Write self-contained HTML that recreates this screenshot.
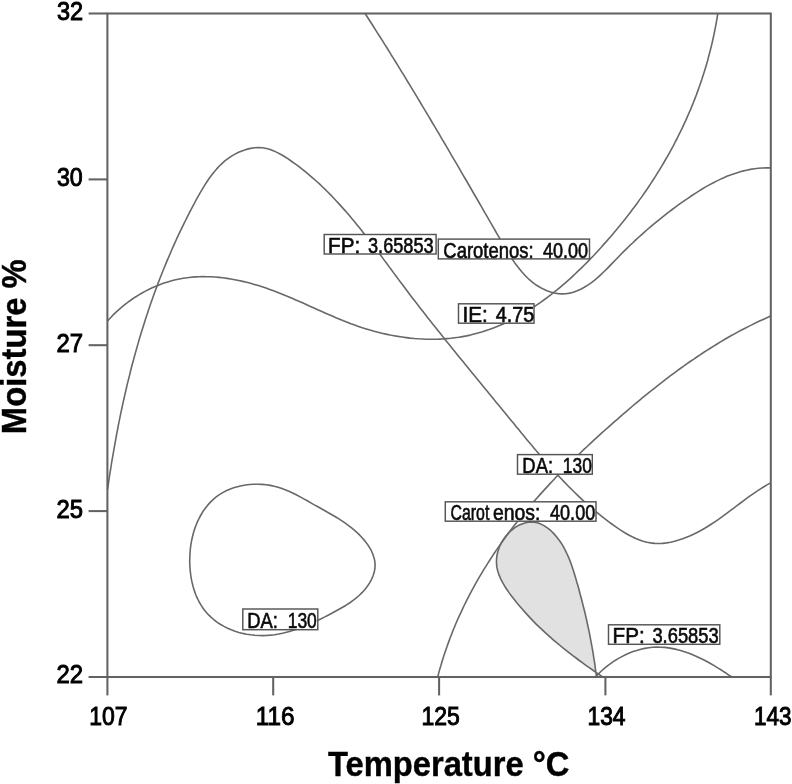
<!DOCTYPE html>
<html><head><meta charset="utf-8"><title>Contour plot</title>
<style>html,body{margin:0;padding:0;background:#fff}svg{display:block}</style></head>
<body>
<svg width="792" height="784" viewBox="0 0 792 784">
<rect width="792" height="784" fill="#fff"/>
<path d="M595.8 672.0 L592.4 669.7 L589.1 667.4 L585.8 665.0 L582.5 662.6 L579.2 660.3 L575.9 657.8 L572.7 655.4 L569.4 652.9 L566.2 650.4 L563.1 647.9 L559.9 645.4 L556.8 642.8 L553.7 640.2 L550.6 637.5 L547.6 634.8 L544.6 632.1 L541.6 629.4 L538.7 626.6 L535.8 623.7 L533.0 620.8 L530.1 617.9 L527.3 614.9 L524.6 611.9 L521.9 608.8 L519.2 605.7 L516.6 602.6 L514.0 599.3 L511.5 596.1 L509.0 592.7 L506.7 589.3 L504.5 585.9 L502.4 582.4 L500.6 578.8 L499.1 575.1 L497.9 571.4 L497.0 567.6 L496.5 563.7 L496.5 559.7 L496.9 555.7 L497.8 551.7 L499.1 547.7 L500.8 543.8 L502.9 540.0 L505.3 536.6 L508.0 533.3 L511.0 530.5 L514.3 528.0 L517.8 526.0 L521.5 524.5 L525.3 523.4 L529.2 522.9 L533.1 522.8 L536.9 523.2 L540.6 524.1 L544.2 525.5 L547.5 527.4 L550.6 529.7 L553.5 532.5 L556.2 535.5 L558.6 538.9 L560.9 542.4 L563.0 546.1 L564.9 549.9 L566.6 553.7 L568.3 557.5 L569.8 561.4 L571.2 565.3 L572.6 569.2 L574.0 573.1 L575.3 576.9 L576.5 580.8 L577.7 584.7 L578.9 588.6 L580.0 592.5 L581.0 596.4 L582.1 600.3 L583.1 604.2 L584.0 608.1 L584.9 612.0 L585.8 615.9 L586.7 619.9 L587.5 623.8 L588.3 627.7 L589.1 631.7 L589.8 635.7 L590.5 639.6 L591.3 643.6 L591.9 647.6 L592.6 651.6 L593.3 655.7 L593.9 659.7 L594.6 663.7 L595.2 667.8 L595.8 671.9" fill="#e1e1e1" stroke="none"/>
<g fill="none" stroke="#686868" stroke-width="1.6" stroke-linejoin="round">
<path d="M602.7 677.0 L599.3 674.7 L595.9 672.3 L592.6 670.0 L589.2 667.6 L585.9 665.3 L582.6 662.9 L579.3 660.5 L576.1 658.0 L572.8 655.6 L569.6 653.1 L566.4 650.6 L563.2 648.1 L560.1 645.5 L556.9 642.9 L553.8 640.3 L550.8 637.6 L547.7 634.9 L544.7 632.2 L541.8 629.4 L538.8 626.6 L535.9 623.8 L533.0 620.9 L530.2 617.9 L527.4 614.9 L524.7 611.9 L522.0 608.8 L519.3 605.7 L516.6 602.5 L514.1 599.3 L511.5 596.0 L509.0 592.6 L506.7 589.2 L504.4 585.7 L502.4 582.2 L500.6 578.6 L499.0 574.9 L497.8 571.2 L496.9 567.4 L496.5 563.5 L496.5 559.6 L496.9 555.6 L497.8 551.7 L499.1 547.7 L500.8 543.9 L502.9 540.2 L505.4 536.7 L508.1 533.4 L511.2 530.5 L514.6 527.8 L518.2 525.6 L521.9 523.9 L525.8 522.7 L529.7 522.0 L533.6 522.1 L537.3 522.8 L540.9 524.1 L544.4 525.9 L547.7 528.1 L550.9 530.7 L553.8 533.6 L556.5 536.7 L559.0 539.9 L561.3 543.2 L563.4 546.7 L565.3 550.3 L567.1 554.0 L568.8 557.8 L570.3 561.6 L571.7 565.5 L573.0 569.4 L574.3 573.4 L575.5 577.4 L576.6 581.4 L577.8 585.3 L578.9 589.3 L579.9 593.3 L581.0 597.2 L582.0 601.1 L583.0 605.1 L584.0 609.0 L585.0 613.0 L585.9 616.9 L586.8 620.8 L587.6 624.8 L588.5 628.7 L589.3 632.7 L590.1 636.6 L590.8 640.6 L591.6 644.6 L592.3 648.6 L593.0 652.6 L593.6 656.6 L594.3 660.6 L594.9 664.7 L595.4 668.8 L596.0 672.9 L596.5 677.0"/>
<path d="M365.0 13.3 L367.2 16.8 L369.4 20.2 L371.7 23.7 L373.9 27.2 L376.0 30.6 L378.2 34.1 L380.4 37.5 L382.6 40.9 L384.7 44.4 L386.9 47.8 L389.0 51.2 L391.1 54.7 L393.3 58.1 L395.4 61.5 L397.5 64.9 L399.6 68.4 L401.7 71.8 L403.8 75.2 L405.9 78.6 L407.9 82.0 L410.0 85.4 L412.1 88.8 L414.1 92.2 L416.2 95.7 L418.3 99.1 L420.3 102.5 L422.3 105.9 L424.4 109.3 L426.4 112.7 L428.5 116.1 L430.5 119.5 L432.5 123.0 L434.6 126.4 L436.6 129.8 L438.6 133.2 L440.6 136.6 L442.6 140.1 L444.7 143.5 L446.7 146.9 L448.7 150.4 L450.7 153.8 L452.7 157.3 L454.7 160.7 L456.8 164.2 L458.8 167.6 L460.8 171.1 L462.8 174.6 L464.8 178.0 L466.9 181.5 L468.9 185.0 L470.9 188.5 L472.9 192.0 L475.0 195.5 L477.0 199.0 L479.0 202.5 L481.1 206.1 L483.1 209.6 L485.1 213.2 L487.2 216.7 L489.3 220.3 L491.3 223.8 L493.4 227.4 L495.4 231.0 L497.5 234.6 L499.6 238.2 L501.7 241.8 L503.8 245.4 L505.9 249.0 L508.1 252.5 L510.3 256.0 L512.5 259.5 L514.8 262.9 L517.2 266.1 L519.7 269.3 L522.2 272.3 L524.9 275.3 L527.6 278.0 L530.5 280.6 L533.5 283.1 L536.6 285.3 L539.9 287.3 L543.3 289.1 L546.9 290.7 L550.6 292.0 L554.3 293.0 L558.2 293.6 L562.0 293.9 L565.9 293.7 L569.7 293.1 L573.4 292.2 L577.1 290.8 L580.7 289.2 L584.3 287.3 L587.8 285.1 L591.1 282.8 L594.4 280.3 L597.6 277.6 L600.6 274.8 L603.6 272.0 L606.6 269.1 L609.5 266.1 L612.4 263.1 L615.2 260.2 L618.1 257.2 L621.0 254.3 L623.8 251.4 L626.7 248.6 L629.6 245.7 L632.6 243.0 L635.5 240.2 L638.4 237.5 L641.4 234.8 L644.4 232.1 L647.4 229.5 L650.4 226.9 L653.4 224.3 L656.5 221.8 L659.6 219.3 L662.7 216.8 L665.8 214.3 L669.0 211.9 L672.2 209.5 L675.4 207.1 L678.7 204.7 L681.9 202.4 L685.2 200.1 L688.6 197.8 L691.9 195.5 L695.3 193.3 L698.8 191.1 L702.2 189.0 L705.7 186.9 L709.3 184.9 L712.9 183.0 L716.5 181.1 L720.1 179.4 L723.8 177.7 L727.5 176.1 L731.2 174.7 L735.0 173.4 L738.8 172.2 L742.6 171.1 L746.5 170.2 L750.4 169.4 L754.4 168.7 L758.4 168.3 L762.4 168.0 L766.5 167.8 L770.6 167.9"/>
<path d="M717.8 13.3 L717.2 17.3 L716.5 21.3 L715.8 25.3 L715.0 29.3 L714.2 33.3 L713.4 37.2 L712.5 41.2 L711.6 45.1 L710.6 49.0 L709.6 52.9 L708.6 56.8 L707.6 60.7 L706.5 64.5 L705.3 68.4 L704.1 72.2 L702.9 76.0 L701.7 79.8 L700.4 83.6 L699.1 87.3 L697.7 91.1 L696.4 94.8 L694.9 98.6 L693.5 102.3 L692.0 105.9 L690.5 109.6 L688.9 113.3 L687.3 116.9 L685.7 120.6 L684.0 124.2 L682.3 127.8 L680.6 131.4 L678.8 134.9 L677.1 138.5 L675.2 142.0 L673.4 145.6 L671.5 149.1 L669.6 152.6 L667.6 156.1 L665.6 159.5 L663.6 163.0 L661.6 166.4 L659.5 169.8 L657.4 173.2 L655.3 176.6 L653.1 180.0 L650.9 183.4 L648.7 186.7 L646.5 190.0 L644.2 193.3 L641.9 196.6 L639.5 199.9 L637.2 203.2 L634.8 206.4 L632.4 209.6 L629.9 212.9 L627.5 216.1 L625.0 219.2 L622.4 222.4 L619.9 225.6 L617.3 228.7 L614.7 231.8 L612.1 234.9 L609.4 238.0 L606.7 241.1 L604.0 244.1 L601.3 247.2 L598.5 250.2 L595.8 253.2 L593.0 256.2 L590.1 259.1 L587.3 262.1 L584.4 265.0 L581.5 267.9 L578.5 270.7 L575.6 273.5 L572.6 276.3 L569.6 279.1 L566.5 281.8 L563.5 284.4 L560.4 287.1 L557.3 289.7 L554.1 292.2 L551.0 294.7 L547.8 297.1 L544.5 299.5 L541.3 301.9 L538.0 304.2 L534.7 306.4 L531.4 308.6 L528.0 310.7 L524.6 312.8 L521.2 314.8 L517.7 316.7 L514.3 318.6 L510.8 320.4 L507.2 322.1 L503.7 323.7 L500.1 325.3 L496.5 326.8 L492.8 328.2 L489.1 329.6 L485.4 330.8 L481.7 332.0 L477.9 333.1 L474.1 334.1 L470.3 335.1 L466.5 335.9 L462.6 336.6 L458.7 337.3 L454.7 337.8 L450.8 338.3 L446.8 338.6 L442.8 338.9 L438.7 339.1 L434.7 339.2 L430.6 339.2 L426.6 339.2 L422.5 339.0 L418.4 338.8 L414.3 338.5 L410.2 338.1 L406.2 337.6 L402.1 337.0 L398.0 336.4 L394.0 335.7 L390.0 335.0 L385.9 334.1 L381.9 333.2 L378.0 332.2 L374.0 331.2 L370.1 330.1 L366.2 328.9 L362.3 327.7 L358.5 326.4 L354.7 325.1 L350.9 323.7 L347.2 322.2 L343.4 320.8 L339.7 319.2 L336.0 317.7 L332.3 316.1 L328.6 314.5 L325.0 312.9 L321.3 311.3 L317.7 309.7 L314.0 308.0 L310.4 306.4 L306.7 304.7 L303.1 303.1 L299.4 301.5 L295.8 299.9 L292.1 298.3 L288.4 296.7 L284.7 295.2 L281.0 293.7 L277.3 292.2 L273.5 290.8 L269.8 289.4 L266.0 288.1 L262.1 286.8 L258.3 285.6 L254.4 284.4 L250.5 283.3 L246.6 282.3 L242.7 281.4 L238.7 280.5 L234.8 279.7 L230.8 279.0 L226.9 278.4 L222.9 277.8 L218.9 277.4 L214.9 277.0 L210.9 276.8 L207.0 276.7 L203.0 276.6 L199.0 276.7 L195.1 276.9 L191.1 277.3 L187.2 277.7 L183.3 278.3 L179.4 279.0 L175.5 279.8 L171.6 280.8 L167.8 281.9 L164.0 283.1 L160.2 284.4 L156.5 285.9 L152.8 287.5 L149.1 289.2 L145.5 291.1 L142.0 293.0 L138.5 295.1 L135.1 297.2 L131.7 299.5 L128.4 301.9 L125.1 304.4 L122.0 306.9 L118.9 309.6 L115.8 312.4 L112.9 315.2 L110.1 318.2 L107.3 321.2"/>
<path d="M107.6 489.3 L108.2 485.3 L108.7 481.4 L109.3 477.4 L109.9 473.4 L110.6 469.5 L111.2 465.5 L111.8 461.5 L112.5 457.6 L113.2 453.6 L113.9 449.7 L114.6 445.7 L115.3 441.8 L116.0 437.8 L116.7 433.9 L117.5 429.9 L118.2 426.0 L119.0 422.1 L119.8 418.1 L120.6 414.2 L121.4 410.3 L122.3 406.3 L123.1 402.4 L124.0 398.5 L124.9 394.6 L125.8 390.7 L126.7 386.8 L127.6 382.9 L128.6 379.0 L129.6 375.1 L130.5 371.2 L131.5 367.3 L132.5 363.5 L133.6 359.6 L134.6 355.7 L135.7 351.9 L136.8 348.0 L137.9 344.1 L139.0 340.3 L140.1 336.4 L141.3 332.6 L142.5 328.8 L143.7 325.0 L144.9 321.1 L146.1 317.3 L147.4 313.5 L148.6 309.7 L149.9 305.9 L151.2 302.1 L152.6 298.3 L153.9 294.6 L155.3 290.8 L156.7 287.0 L158.1 283.3 L159.5 279.5 L161.0 275.8 L162.5 272.0 L164.0 268.3 L165.5 264.6 L167.0 260.9 L168.6 257.2 L170.2 253.5 L171.8 249.8 L173.4 246.1 L175.1 242.4 L176.7 238.7 L178.4 235.1 L180.2 231.4 L181.9 227.8 L183.7 224.1 L185.5 220.5 L187.3 216.9 L189.1 213.3 L191.0 209.7 L192.9 206.1 L194.8 202.5 L196.7 198.9 L198.7 195.4 L200.7 191.8 L202.8 188.3 L204.9 184.9 L207.1 181.5 L209.3 178.2 L211.7 175.0 L214.1 171.9 L216.7 168.9 L219.4 166.0 L222.2 163.3 L225.1 160.7 L228.3 158.3 L231.5 156.1 L235.0 154.1 L238.6 152.3 L242.5 150.7 L246.4 149.4 L250.5 148.4 L254.6 147.7 L258.6 147.5 L262.6 147.8 L266.4 148.5 L270.2 149.5 L273.8 150.9 L277.4 152.6 L281.0 154.5 L284.4 156.5 L287.8 158.7 L291.1 161.0 L294.4 163.3 L297.7 165.7 L300.9 168.2 L304.0 170.6 L307.1 173.2 L310.2 175.8 L313.2 178.4 L316.2 181.0 L319.2 183.7 L322.1 186.5 L324.9 189.2 L327.8 192.0 L330.6 194.9 L333.4 197.8 L336.1 200.7 L338.8 203.6 L341.5 206.6 L344.2 209.6 L346.8 212.6 L349.4 215.6 L352.0 218.7 L354.6 221.8 L357.1 224.9 L359.7 228.0 L362.2 231.2 L364.7 234.4 L367.1 237.5 L369.6 240.7 L372.1 243.9 L374.5 247.1 L376.9 250.4 L379.4 253.6 L381.8 256.8 L384.2 260.1 L386.6 263.3 L389.0 266.6 L391.4 269.8 L393.8 273.1 L396.2 276.3 L398.6 279.6 L401.0 282.8 L403.5 286.0 L405.9 289.2 L408.3 292.5 L410.7 295.7 L413.2 298.9 L415.6 302.1 L418.1 305.2 L420.5 308.4 L423.0 311.6 L425.5 314.7 L427.9 317.9 L430.4 321.1 L432.9 324.2 L435.4 327.3 L437.9 330.5 L440.4 333.6 L442.9 336.7 L445.4 339.9 L447.9 343.0 L450.4 346.1 L452.9 349.2 L455.4 352.3 L457.9 355.4 L460.4 358.5 L463.0 361.6 L465.5 364.7 L468.0 367.8 L470.6 370.9 L473.1 374.0 L475.6 377.1 L478.2 380.2 L480.7 383.3 L483.2 386.4 L485.8 389.5 L488.3 392.6 L490.9 395.7 L493.4 398.8 L495.9 401.9 L498.5 405.0 L501.0 408.1 L503.6 411.2 L506.1 414.3 L508.7 417.4 L511.2 420.5 L513.8 423.6 L516.3 426.7 L518.9 429.8 L521.4 433.0 L524.0 436.1 L526.5 439.2 L529.1 442.3 L531.7 445.3 L534.3 448.4 L536.9 451.5 L539.5 454.6 L542.1 457.6 L544.8 460.6 L547.4 463.7 L550.1 466.7 L552.8 469.6 L555.5 472.6 L558.2 475.6 L561.0 478.5 L563.7 481.4 L566.5 484.3 L569.3 487.2 L572.2 490.0 L575.0 492.8 L577.9 495.6 L580.8 498.3 L583.8 501.1 L586.8 503.7 L589.8 506.4 L592.8 509.0 L595.9 511.6 L599.0 514.2 L602.1 516.7 L605.3 519.2 L608.5 521.6 L611.8 524.0 L615.1 526.4 L618.4 528.7 L621.8 530.9 L625.2 533.0 L628.7 535.0 L632.2 536.8 L635.8 538.5 L639.5 539.9 L643.1 541.2 L646.9 542.2 L650.7 542.9 L654.6 543.4 L658.5 543.5 L662.5 543.4 L666.5 542.9 L670.5 542.2 L674.6 541.3 L678.6 540.1 L682.6 538.8 L686.5 537.3 L690.3 535.7 L694.0 534.0 L697.6 532.2 L701.2 530.3 L704.7 528.3 L708.1 526.2 L711.5 524.0 L714.8 521.8 L718.1 519.6 L721.3 517.3 L724.6 514.9 L727.7 512.6 L730.9 510.2 L734.1 507.8 L737.3 505.4 L740.5 503.0 L743.7 500.6 L746.9 498.2 L750.1 495.9 L753.4 493.6 L756.7 491.3 L760.1 489.1 L763.5 487.0 L767.0 484.9 L770.6 482.9"/>
<path d="M770.6 316.1 L766.9 317.7 L763.2 319.4 L759.5 321.1 L755.9 322.8 L752.3 324.6 L748.7 326.4 L745.1 328.2 L741.5 330.0 L738.0 331.9 L734.5 333.9 L731.0 335.8 L727.5 337.8 L724.0 339.8 L720.5 341.9 L717.1 344.0 L713.7 346.1 L710.3 348.2 L706.9 350.4 L703.5 352.5 L700.1 354.8 L696.8 357.0 L693.5 359.3 L690.1 361.5 L686.8 363.8 L683.6 366.2 L680.3 368.5 L677.0 370.9 L673.8 373.3 L670.5 375.7 L667.3 378.1 L664.1 380.6 L660.9 383.1 L657.7 385.6 L654.6 388.1 L651.4 390.6 L648.2 393.1 L645.1 395.7 L642.0 398.2 L638.9 400.8 L635.7 403.4 L632.6 406.0 L629.6 408.7 L626.5 411.3 L623.4 413.9 L620.3 416.6 L617.3 419.3 L614.2 421.9 L611.2 424.6 L608.1 427.3 L605.1 430.0 L602.1 432.7 L599.1 435.4 L596.1 438.2 L593.1 440.9 L590.2 443.7 L587.2 446.5 L584.2 449.2 L581.3 452.0 L578.4 454.8 L575.5 457.7 L572.6 460.5 L569.7 463.3 L566.8 466.2 L564.0 469.1 L561.2 471.9 L558.3 474.8 L555.5 477.8 L552.8 480.7 L550.0 483.6 L547.3 486.6 L544.5 489.6 L541.8 492.6 L539.1 495.6 L536.5 498.6 L533.8 501.6 L531.2 504.7 L528.6 507.8 L526.0 510.9 L523.4 514.0 L520.9 517.1 L518.4 520.2 L515.9 523.4 L513.4 526.6 L511.0 529.8 L508.6 533.0 L506.2 536.3 L503.8 539.5 L501.5 542.8 L499.2 546.1 L496.9 549.4 L494.6 552.7 L492.4 556.1 L490.2 559.5 L488.0 562.9 L485.9 566.3 L483.8 569.7 L481.7 573.1 L479.6 576.6 L477.6 580.1 L475.6 583.6 L473.7 587.1 L471.8 590.7 L469.9 594.2 L468.0 597.8 L466.2 601.4 L464.4 605.0 L462.7 608.6 L461.0 612.3 L459.3 615.9 L457.6 619.6 L456.0 623.3 L454.5 627.0 L452.9 630.8 L451.5 634.5 L450.0 638.3 L448.6 642.1 L447.2 645.9 L445.9 649.7 L444.6 653.6 L443.3 657.4 L442.1 661.3 L441.0 665.2 L439.8 669.1 L438.7 673.1 L437.7 677.0"/>
<path d="M595.5 677.0 L598.4 673.9 L601.4 671.0 L604.6 668.2 L607.8 665.6 L611.2 663.1 L614.7 660.7 L618.2 658.6 L621.8 656.6 L625.5 654.7 L629.3 653.1 L633.1 651.6 L636.9 650.4 L640.8 649.3 L644.8 648.4 L648.7 647.8 L652.7 647.3 L656.7 647.1 L660.7 647.2 L664.7 647.4 L668.6 647.9 L672.6 648.6 L676.5 649.4 L680.5 650.5 L684.4 651.7 L688.3 653.0 L692.1 654.6 L696.0 656.2 L699.8 658.0 L703.5 659.8 L707.3 661.8 L710.9 663.8 L714.6 665.9 L718.1 668.1 L721.7 670.3 L725.1 672.5 L728.5 674.8 L731.9 677.0"/>
<path d="M189.7 562.0 L189.8 557.8 L190.0 553.6 L190.3 549.4 L190.8 545.2 L191.5 541.1 L192.4 537.0 L193.4 533.0 L194.6 529.1 L196.0 525.3 L197.5 521.6 L199.3 518.0 L201.2 514.5 L203.2 511.1 L205.5 508.0 L207.9 504.9 L210.5 502.1 L213.3 499.4 L216.2 496.9 L219.4 494.7 L222.7 492.6 L226.2 490.8 L229.8 489.2 L233.6 487.8 L237.5 486.7 L241.5 485.7 L245.5 485.0 L249.6 484.5 L253.8 484.2 L257.9 484.2 L262.1 484.4 L266.2 484.8 L270.2 485.4 L274.2 486.2 L278.1 487.2 L282.0 488.5 L285.7 489.9 L289.4 491.5 L293.1 493.2 L296.7 495.0 L300.2 496.9 L303.8 498.9 L307.3 500.8 L310.8 502.9 L314.3 504.9 L317.9 506.8 L321.4 508.8 L324.9 510.7 L328.4 512.7 L331.9 514.7 L335.4 516.7 L338.9 518.9 L342.3 521.1 L345.6 523.4 L348.9 525.8 L352.2 528.4 L355.4 531.1 L358.5 533.9 L361.4 537.0 L364.2 540.1 L366.8 543.4 L369.1 546.8 L371.1 550.2 L372.7 553.8 L373.9 557.4 L374.8 561.1 L375.1 564.8 L374.9 568.5 L374.2 572.3 L373.0 576.0 L371.4 579.6 L369.5 583.1 L367.2 586.5 L364.7 589.7 L362.0 592.7 L359.1 595.5 L356.0 598.2 L352.8 600.6 L349.5 603.0 L346.1 605.2 L342.6 607.3 L339.0 609.3 L335.4 611.3 L331.8 613.3 L328.1 615.2 L324.4 617.1 L320.7 619.0 L316.9 620.8 L313.2 622.5 L309.4 624.2 L305.6 625.8 L301.8 627.3 L298.0 628.7 L294.2 630.0 L290.3 631.2 L286.4 632.3 L282.5 633.2 L278.6 634.0 L274.7 634.7 L270.7 635.1 L266.7 635.4 L262.8 635.6 L258.7 635.5 L254.7 635.3 L250.7 634.8 L246.7 634.2 L242.8 633.4 L238.9 632.4 L235.0 631.2 L231.3 629.8 L227.6 628.2 L224.0 626.4 L220.6 624.5 L217.3 622.3 L214.2 620.0 L211.2 617.4 L208.4 614.7 L205.8 611.8 L203.4 608.7 L201.2 605.4 L199.2 602.0 L197.4 598.4 L195.8 594.7 L194.4 590.9 L193.2 587.0 L192.2 582.9 L191.3 578.8 L190.7 574.7 L190.2 570.5 L189.9 566.3 L189.7 562.0Z"/>
</g>
<g fill="none" stroke="#626262" stroke-width="2.05">
<rect x="107.4" y="13.5" width="663.4" height="663.5"/>
<path d="M88.6 13.5H107.4"/>
<path d="M107.4 677.0V695.4"/>
<path d="M88.6 179.4H107.4"/>
<path d="M273.2 677.0V695.4"/>
<path d="M88.6 345.2H107.4"/>
<path d="M439.1 677.0V695.4"/>
<path d="M88.6 511.1H107.4"/>
<path d="M605.4 677.0V695.4"/>
<path d="M88.6 677.0H107.4"/>
<path d="M770.8 677.0V695.4"/>
</g>
<g font-family="'Liberation Sans',Arial,sans-serif" font-size="26.5" fill="#000" stroke="#000" stroke-width="1.0">
<text x="56.96" y="20" textLength="26.19" lengthAdjust="spacingAndGlyphs">32</text>
<text x="56.98" y="186" textLength="25.80" lengthAdjust="spacingAndGlyphs">30</text>
<text x="56.58" y="352" textLength="26.59" lengthAdjust="spacingAndGlyphs">27</text>
<text x="56.58" y="518" textLength="26.59" lengthAdjust="spacingAndGlyphs">25</text>
<text x="56.58" y="683" textLength="26.59" lengthAdjust="spacingAndGlyphs">22</text>
<text x="89.26" y="725" textLength="38.37" lengthAdjust="spacingAndGlyphs">107</text>
<text x="255.78" y="725" textLength="38.70" lengthAdjust="spacingAndGlyphs">116</text>
<text x="421.46" y="725" textLength="38.37" lengthAdjust="spacingAndGlyphs">125</text>
<text x="587.47" y="725" textLength="38.10" lengthAdjust="spacingAndGlyphs">134</text>
<text x="753.89" y="725" textLength="37.52" lengthAdjust="spacingAndGlyphs">143</text>
</g>
<g font-family="'Liberation Sans',Arial,sans-serif" font-size="34.6" font-weight="bold" fill="#000" stroke="#000" stroke-width="0.4">
<text x="328.00" y="776" textLength="241.42" lengthAdjust="spacingAndGlyphs">Temperature °C</text>
<text transform="translate(25.6,432.3) rotate(-90)" x="-1.85" textLength="174.91" lengthAdjust="spacingAndGlyphs">Moisture %</text>
</g>
<g font-family="'Liberation Sans',Arial,sans-serif" font-size="21.3" fill="#0a0a0a" stroke-width="0.6">
<rect x="324.2" y="234.5" width="111.9" height="19.5" fill="#fff" stroke="#555" stroke-width="1.45"/>
<text y="253.0" stroke="#0a0a0a"><tspan x="328.09" textLength="32.07" lengthAdjust="spacingAndGlyphs">FP:</tspan> <tspan x="368.03" textLength="65.60" lengthAdjust="spacingAndGlyphs">3.65853</tspan></text>
<rect x="438.3" y="239.1" width="151.2" height="19.8" fill="#fff" stroke="#555" stroke-width="1.45"/>
<text y="258.0" stroke="#0a0a0a"><tspan x="443.34" textLength="90.23" lengthAdjust="spacingAndGlyphs">Carotenos:</tspan> <tspan x="542.92" textLength="45.13" lengthAdjust="spacingAndGlyphs">40.00</tspan></text>
<rect x="458.5" y="303.8" width="75.5" height="19.4" fill="#fff" stroke="#555" stroke-width="1.45"/>
<text y="322.0" stroke="#0a0a0a"><tspan x="462.58" textLength="25.28" lengthAdjust="spacingAndGlyphs">IE:</tspan> <tspan x="495.69" textLength="38.51" lengthAdjust="spacingAndGlyphs">4.75</tspan></text>
<rect x="517.5" y="454.6" width="74.8" height="19.6" fill="#fff" stroke="#555" stroke-width="1.45"/>
<text y="473.0" stroke="#0a0a0a"><tspan x="522.36" textLength="30.81" lengthAdjust="spacingAndGlyphs">DA:</tspan> <tspan x="562.81" textLength="29.02" lengthAdjust="spacingAndGlyphs">130</tspan></text>
<rect x="445.3" y="501.8" width="150.7" height="19.4" fill="#fff" stroke="#555" stroke-width="1.45"/>
<text y="520.0" stroke="#0a0a0a"><tspan x="450.56" textLength="38.79" lengthAdjust="spacingAndGlyphs">Carot</tspan><tspan x="492.89" textLength="47.46" lengthAdjust="spacingAndGlyphs">enos:</tspan> <tspan x="550.02" textLength="45.23" lengthAdjust="spacingAndGlyphs">40.00</tspan></text>
<rect x="242.8" y="609.0" width="75.0" height="20.7" fill="#fff" stroke="#555" stroke-width="1.45"/>
<text y="628.0" stroke="#0a0a0a"><tspan x="247.16" textLength="30.70" lengthAdjust="spacingAndGlyphs">DA:</tspan> <tspan x="287.71" textLength="29.13" lengthAdjust="spacingAndGlyphs">130</tspan></text>
<rect x="608.5" y="624.8" width="111.3" height="19.5" fill="#fff" stroke="#555" stroke-width="1.45"/>
<text y="643.0" stroke="#0a0a0a"><tspan x="612.59" textLength="32.07" lengthAdjust="spacingAndGlyphs">FP:</tspan> <tspan x="652.43" textLength="66.21" lengthAdjust="spacingAndGlyphs">3.65853</tspan></text>
</g>
</svg>
</body></html>
